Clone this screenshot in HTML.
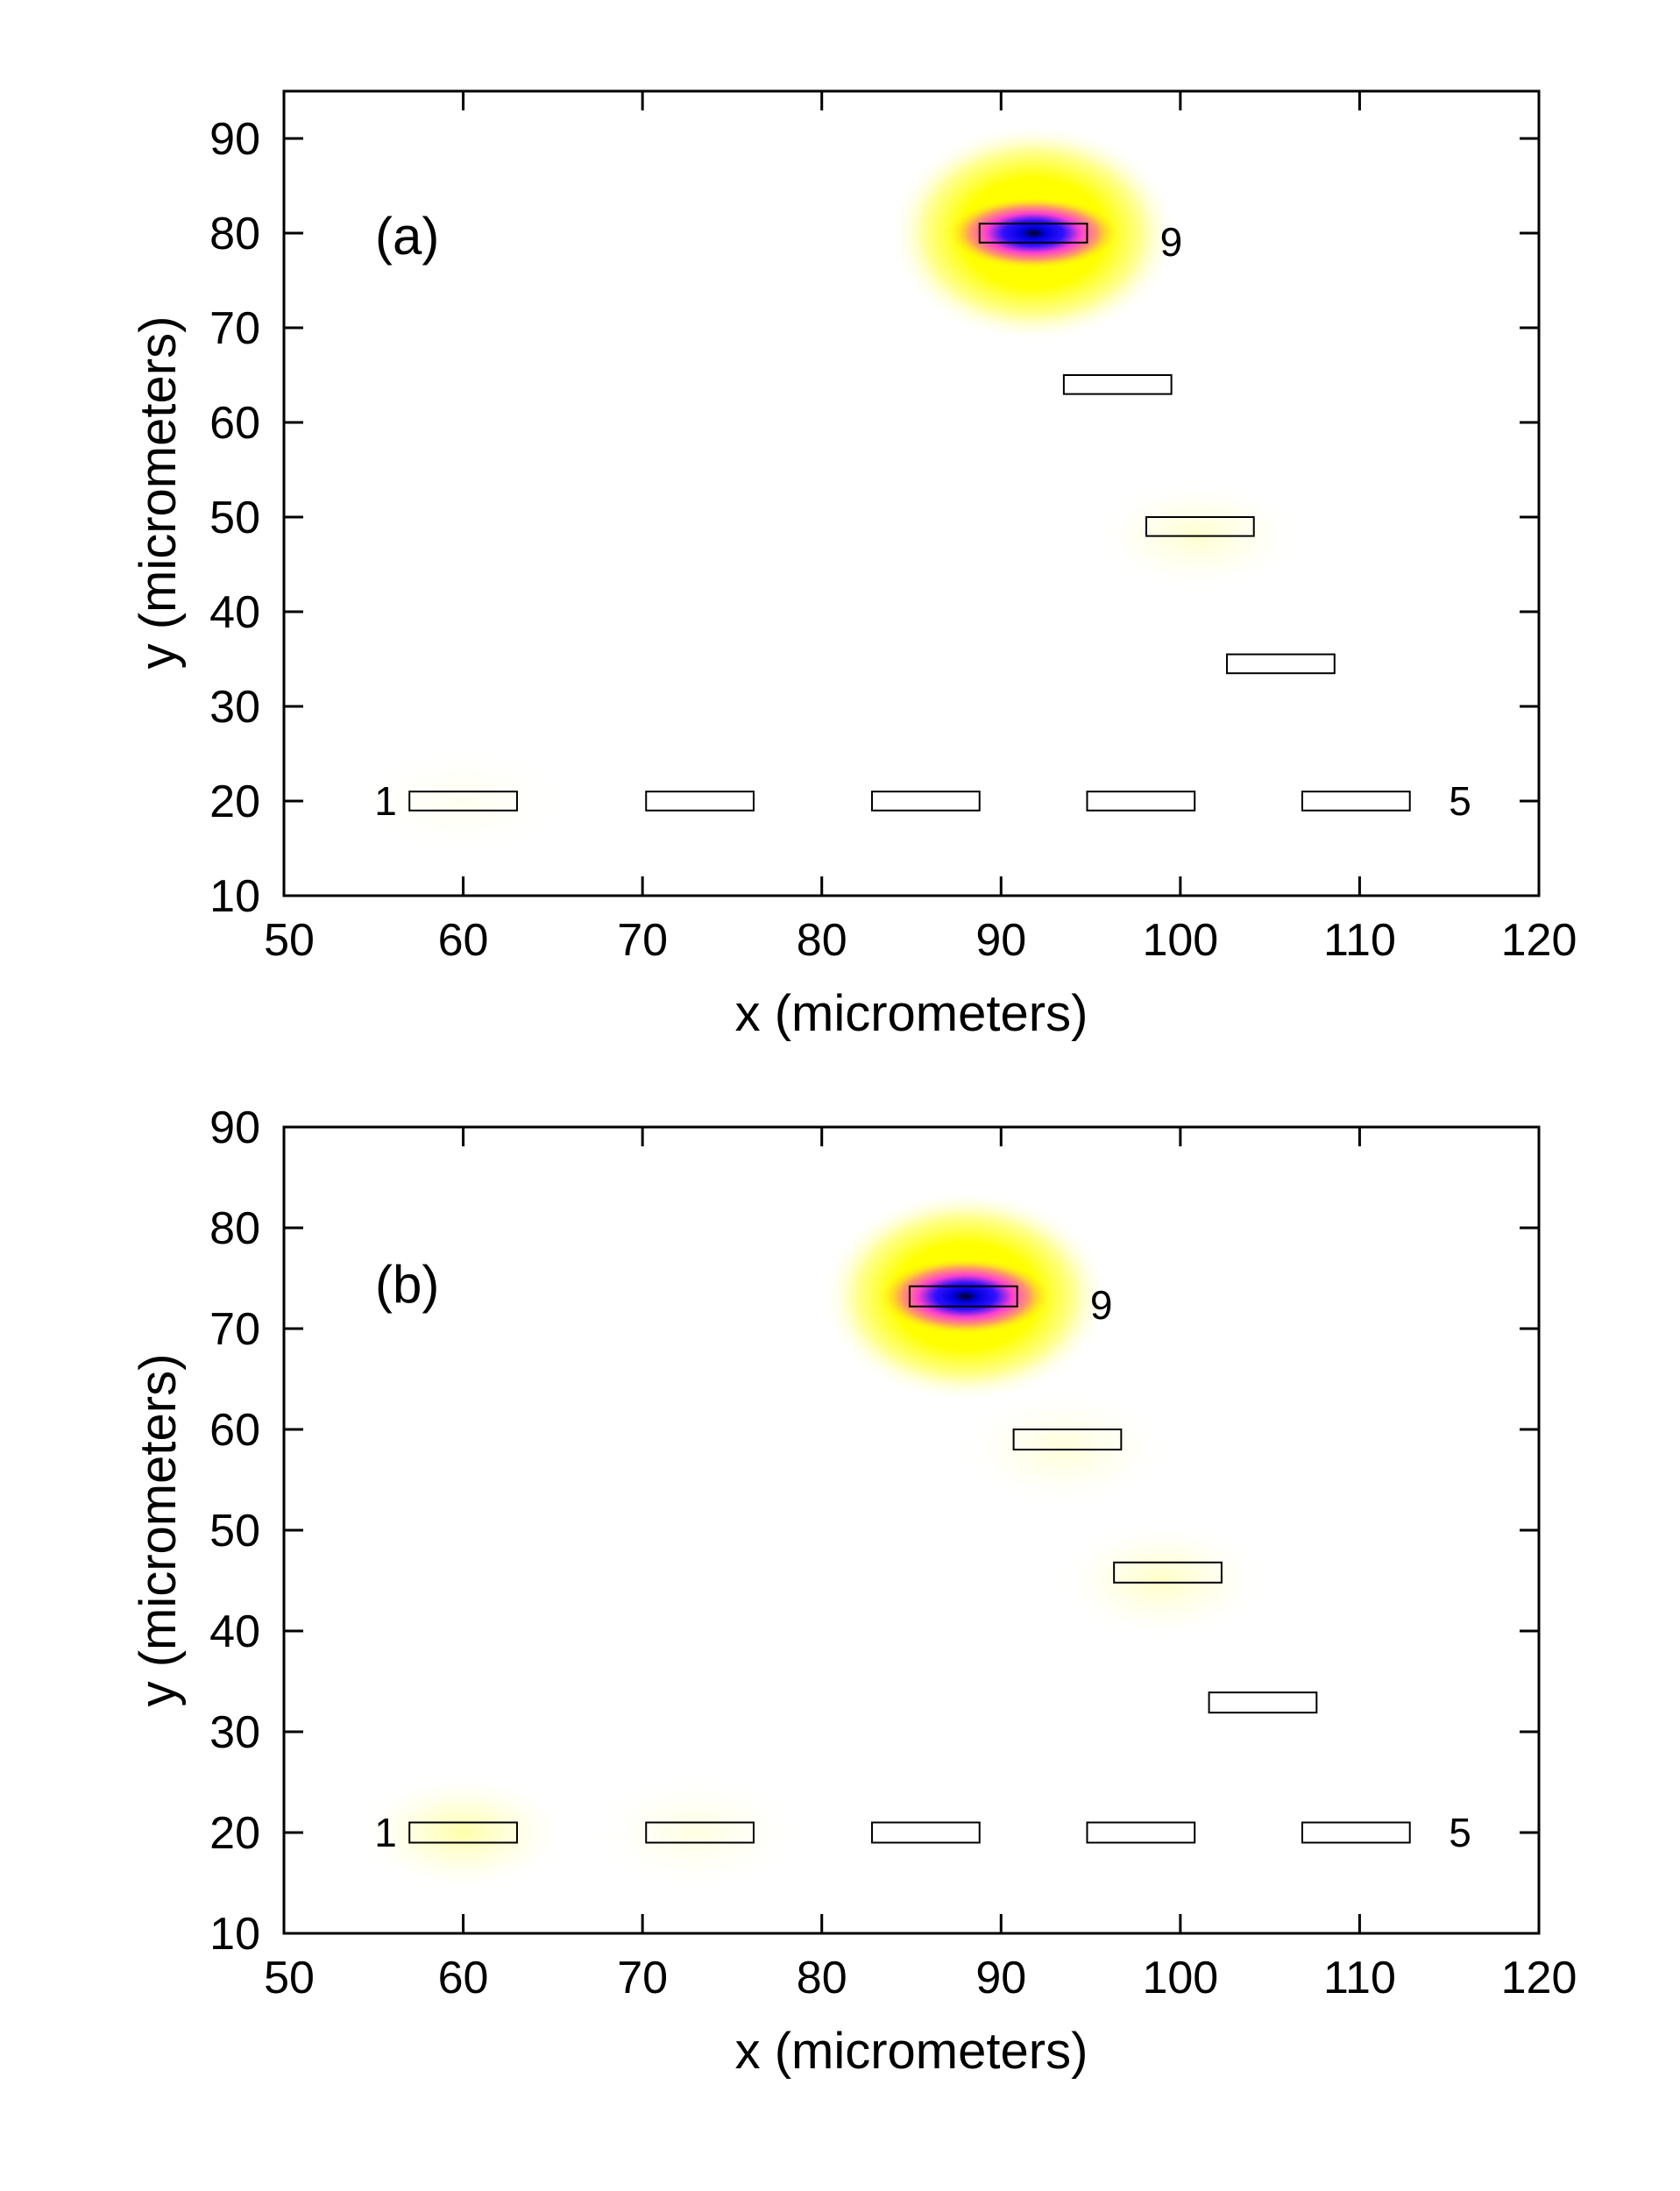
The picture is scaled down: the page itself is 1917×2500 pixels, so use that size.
<!DOCTYPE html>
<html><head><meta charset="utf-8"><style>
html,body{margin:0;padding:0;background:#fff}
svg{display:block}
text{font-family:"Liberation Sans",sans-serif;fill:#000}
</style></head><body>
<svg id="fig" width="1917" height="2500" viewBox="0 0 1917 2500" xmlns="http://www.w3.org/2000/svg">
<defs>
<radialGradient id="faint" cx="0.5" cy="0.5" r="0.5">
<stop offset="0" stop-color="#ffff60" stop-opacity="0.55"/>
<stop offset="0.5" stop-color="#ffffa0" stop-opacity="0.3"/>
<stop offset="1" stop-color="#ffffff" stop-opacity="0"/>
</radialGradient>
<radialGradient id="core" cx="0.5" cy="0.5" r="0.5">
<stop offset="0" stop-color="#000020"/>
<stop offset="0.15" stop-color="#0000e0"/>
<stop offset="0.35" stop-color="#3010ff"/>
<stop offset="0.55" stop-color="#ff40d0"/>
<stop offset="0.75" stop-color="#ffa060"/>
<stop offset="1" stop-color="#ffff00" stop-opacity="0"/>
</radialGradient>
<radialGradient id="glow" cx="0.5" cy="0.5" r="0.5">
<stop offset="0" stop-color="#ffff00"/>
<stop offset="0.5" stop-color="#ffff00"/>
<stop offset="0.75" stop-color="#ffff90"/>
<stop offset="1" stop-color="#ffffff" stop-opacity="0"/>
</radialGradient>
</defs>
</svg>
<script>
// ---- data ----
const xTicks = [50,60,70,80,90,100,110,120];
const yTicksA = [10,20,30,40,50,60,70,80,90];
const yTicksB = [10,20,30,40,50,60,70,80,90];
// detector rectangles: [xmin, ycenter]
const rectXMinA = [57,70.2,82.8,94.8,106.8,98.1,102.6,93.5,88.8];
const rectYA = [20,20,20,20,20,49,34.5,64,80];
const rectXMinB = [57,70.2,82.8,94.8,106.8,96.3,101.6,90.7,84.9];
const rectYB = [20,20,20,20,20,45.8,32.9,59,73.2];
// intensity sources: x, y, strength (0..1)
const srcXA = [91.8,101,60];
const srcYA = [80,48,20];
const srcAmpA = [1,0.25,0.08];
const srcXB = [88,99,60,73,93.5];
const srcYB = [73.2,45,20,20,58];
const srcAmpB = [1,0.3,0.45,0.15,0.2];

const NS='http://www.w3.org/2000/svg';
const svg=document.getElementById('fig');
function mk(tag,attrs,parent){const e=document.createElementNS(NS,tag);for(const k in attrs)e.setAttribute(k,attrs[k]);(parent||svg).appendChild(e);return e;}

function panel(p){
  const L=324,R=1756,T=p.top,B=p.bottom;
  const sx=v=>L+(v-50)/(120-50)*(R-L);
  const sy=v=>B-(v-p.ymin)/(p.ymax-p.ymin)*(B-T);
  const g=mk('g',{});
  
  
  const ux=(R-L)/70, uy=(B-T)/(p.ymax-p.ymin);
  for(let i=0;i<p.sx.length;i++){
    const a=p.amp[i], cx=sx(p.sx[i]), cy=sy(p.sy[i]);
    if(a>0.9){
      const d=mk('path',{d:`M${cx-8*ux},${cy} Q${cx-3*ux},${cy-3*p.gy*uy} ${cx},${cy-p.gy*uy} Q${cx+3*ux},${cy-3*p.gy*uy} ${cx+8*ux},${cy} Q${cx+3*ux},${cy+3*p.gy*uy} ${cx},${cy+p.gy*uy} Q${cx-3*ux},${cy+3*p.gy*uy} ${cx-8*ux},${cy}Z`,fill:'none'},g);
      const e1=mk('ellipse',{cx:cx,cy:cy,rx:8*ux,ry:p.gy*uy,fill:'url(#glow)'},g);
      
      
      const e2=mk('ellipse',{cx:cx,cy:cy,rx:4.8*ux,ry:3.8*uy,fill:'url(#core)'},g);
      
      
    } else {
      const e=mk('ellipse',{cx:cx,cy:cy,rx:6*ux,ry:6*uy,fill:'url(#faint)','fill-opacity':Math.min(1,a*2.2)},g);
      
      
    }
  }
  for(let i=0;i<p.rx.length;i++){
    const r=mk('rect',{x:sx(p.rx[i]),y:sy(p.ry[i]+1),width:6*ux,height:2*uy,fill:'none',stroke:'#000','stroke-width':2},g);
    
    
  }
  const f=mk('rect',{x:L,y:T,width:R-L,height:B-T,fill:'none',stroke:'#000','stroke-width':3},g);
  
  
  xTicks.forEach((v,i)=>{
    const x=sx(v);
    if(i>0&&i<xTicks.length-1){
      mk('line',{x1:x,x2:x,y1:B,y2:B-22,stroke:'#000','stroke-width':3},g);
      mk('line',{x1:x,x2:x,y1:T,y2:T+22,stroke:'#000','stroke-width':3},g);
    }
    const t=mk('text',{x:x+(i==0?6:0),y:p.xlabY,'text-anchor':'middle','font-size':52},g);
    t.textContent=v;
    
    
  });
  p.yt.forEach(v=>{
    const y=sy(v);
    if(v>p.ymin&&v<p.ymax){
      mk('line',{x1:L,x2:L+22,y1:y,y2:y,stroke:'#000','stroke-width':3},g);
      mk('line',{x1:R,x2:R-22,y1:y,y2:y,stroke:'#000','stroke-width':3},g);
    }
    const t=mk('text',{x:297,y:y+18,'text-anchor':'end','font-size':52},g);
    t.textContent=v;
    
    
  });
  const xt=mk('text',{x:1040,y:p.xtitleY,'text-anchor':'middle','font-size':58},g);
  xt.textContent='x (micrometers)';
  
  
  const yt=mk('text',{x:0,y:0,'text-anchor':'middle','font-size':58,transform:`translate(200 ${p.ytitleY}) rotate(-90)`},g);
  yt.textContent='y (micrometers)';
  
  
  const lab=mk('text',{x:428,y:p.labY,'font-size':60},g);
  lab.textContent=p.label;
  
  
  const n9=mk('text',{x:sx(p.rx[8])+6*ux+96,y:sy(p.ry[8])+26,'text-anchor':'middle','font-size':46},g);
  n9.textContent='9';
  
  
  const n1=mk('text',{x:440,y:sy(20)+16,'text-anchor':'middle','font-size':46},g);
  n1.textContent='1';
  
  
  const n5=mk('text',{x:1666,y:sy(20)+16,'text-anchor':'middle','font-size':46},g);
  n5.textContent='5';
  
  
}
panel({name:'panel-a',top:104,bottom:1022,ymin:10,ymax:95,yt:yTicksA,rx:rectXMinA,ry:rectYA,sx:srcXA,sy:srcYA,amp:srcAmpA,gy:11.5,xlabY:1090,xtitleY:1176,ytitleY:562,label:'(a)',labY:290});
panel({name:'panel-b',top:1286,bottom:2206,ymin:10,ymax:90,yt:yTicksB,rx:rectXMinB,ry:rectYB,sx:srcXB,sy:srcYB,amp:srcAmpB,gy:10.5,xlabY:2274,xtitleY:2360,ytitleY:1746,label:'(b)',labY:1486});
</script>
</body></html>
